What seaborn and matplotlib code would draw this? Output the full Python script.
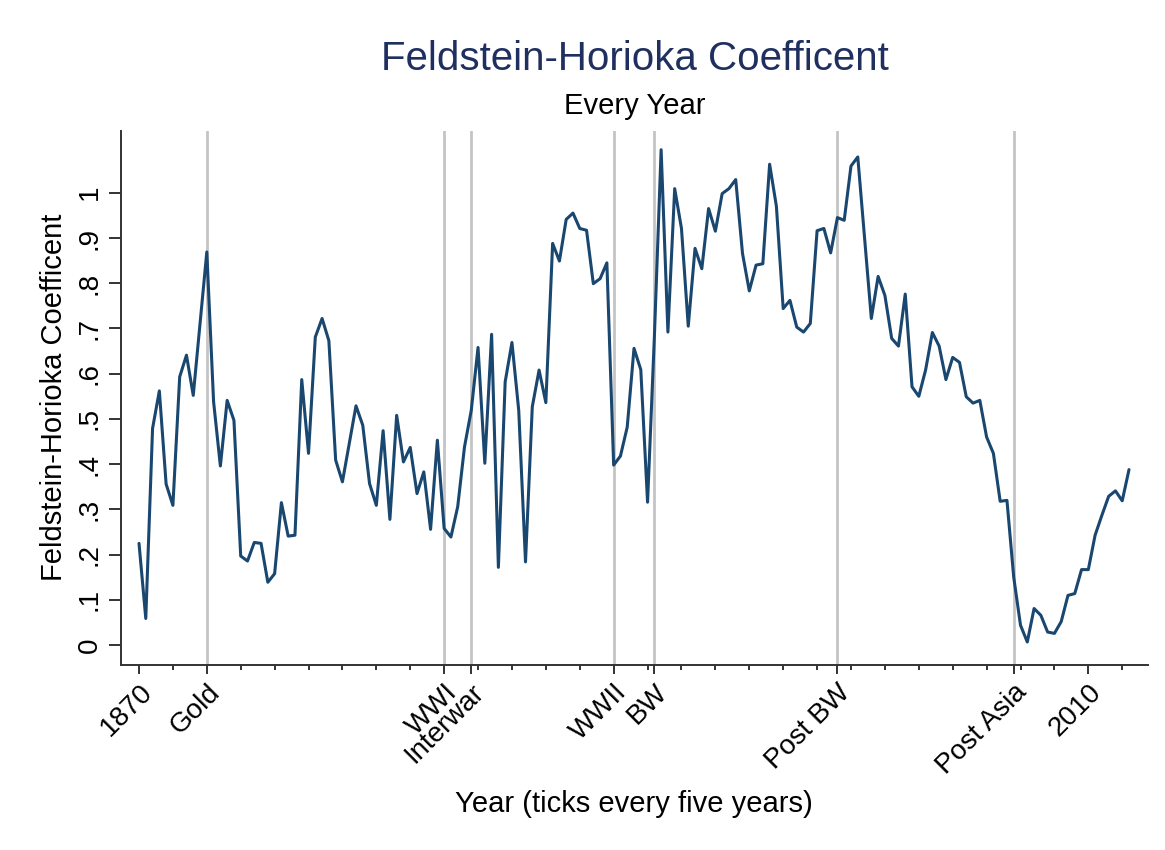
import matplotlib
matplotlib.use("Agg")
import matplotlib.pyplot as plt
import numpy as np
import pandas as pd
import seaborn as sns

# Annual Feldstein-Horioka savings-investment coefficient, 1870-2016
years = list(range(1870, 2017))
fh_coef = [
    0.225, 0.059, 0.479, 0.562, 0.356, 0.309, 0.593, 0.641, 0.552, 0.710,   # 1870s
    0.869, 0.538, 0.396, 0.541, 0.497, 0.197, 0.186, 0.227, 0.225, 0.139,   # 1880s
    0.158, 0.315, 0.241, 0.243, 0.587, 0.424, 0.681, 0.722, 0.673, 0.409,   # 1890s
    0.361, 0.445, 0.529, 0.486, 0.357, 0.309, 0.474, 0.278, 0.508, 0.405,   # 1900s
    0.437, 0.335, 0.383, 0.256, 0.453, 0.258, 0.239, 0.306, 0.438, 0.519,   # 1910s
    0.658, 0.402, 0.687, 0.172, 0.582, 0.669, 0.519, 0.184, 0.527, 0.608,   # 1920s
    0.536, 0.888, 0.849, 0.941, 0.955, 0.921, 0.917, 0.799, 0.810, 0.845,   # 1930s
    0.398, 0.418, 0.482, 0.656, 0.609, 0.316, 0.680, 1.095, 0.692, 1.009,   # 1940s
    0.921, 0.705, 0.877, 0.832, 0.965, 0.915, 0.998, 1.009, 1.029, 0.866,   # 1950s
    0.783, 0.840, 0.843, 1.063, 0.970, 0.744, 0.762, 0.703, 0.692, 0.711,   # 1960s
    0.916, 0.921, 0.867, 0.945, 0.939, 1.059, 1.079, 0.900, 0.722, 0.815,   # 1970s
    0.773, 0.678, 0.661, 0.776, 0.571, 0.550, 0.608, 0.691, 0.661, 0.587,   # 1980s
    0.636, 0.625, 0.549, 0.535, 0.541, 0.460, 0.424, 0.318, 0.320, 0.150,   # 1990s
    0.044, 0.007, 0.081, 0.066, 0.029, 0.026, 0.052, 0.110, 0.114, 0.167,   # 2000s
    0.167, 0.243, 0.287, 0.329, 0.341, 0.319, 0.388,                        # 2010s
]

# Labelled x ticks: regime starts plus the end points
event_years = [1870, 1880, 1915, 1919, 1940, 1946, 1973, 1999, 2010]
event_labels = ["1870", "Gold", "WWI", "Interwar", "WWII", "BW",
                "Post BW", "Post Asia", "2010"]
# Regime boundaries marked with vertical rules
regime_years = [1880, 1915, 1919, 1940, 1946, 1973, 1999]
# Unlabelled ticks every five years
minor_years = list(range(1870, 2016, 5))

ytick_vals = [0, 0.1, 0.2, 0.3, 0.4, 0.5, 0.6, 0.7, 0.8, 0.9, 1.0]
ytick_labels = ["0", ".1", ".2", ".3", ".4", ".5", ".6", ".7", ".8", ".9", "1"]

df = pd.DataFrame({"year": years, "coef": fh_coef})

sns.set_theme(style="ticks")
plt.rcParams["font.family"] = ["Liberation Sans", "DejaVu Sans"]
plt.rcParams["text.color"] = "black"
plt.rcParams["axes.labelcolor"] = "black"
plt.rcParams["xtick.color"] = "black"
plt.rcParams["ytick.color"] = "black"

fig = plt.figure(figsize=(11.65, 8.5), dpi=100)
ax = fig.add_axes([0.1036, 0.2181, 0.8818, 0.6281])

for yr in regime_years:
    ax.axvline(yr, color="#c4c4c4", lw=2.0, zorder=1)

sns.lineplot(data=df, x="year", y="coef", ax=ax, color="#1a476f",
             linewidth=2.2, zorder=3)

ax.set_xlim(1867.3, 2018.8)
ax.set_ylim(-0.043, 1.137)

ax.set_yticks(ytick_vals)
ax.set_yticklabels(ytick_labels, rotation=90, va="center", fontsize=20)
ax.set_xticks(event_years)
ax.set_xticklabels(event_labels, rotation=45, ha="right",
                   rotation_mode="anchor", fontsize=20)
ax.set_xticks(minor_years, minor=True)

ax.tick_params(axis="y", which="major", length=9, width=1.4,
               color="#333333", labelcolor="black", pad=4)
ax.tick_params(axis="x", which="major", length=6.5, width=1.4,
               color="#333333", labelcolor="black", pad=4)
ax.tick_params(axis="x", which="minor", length=3.8, width=1.4,
               color="#333333")

for side in ("top", "right"):
    ax.spines[side].set_visible(False)
for side in ("left", "bottom"):
    ax.spines[side].set_linewidth(1.4)
    ax.spines[side].set_color("#333333")

ax.set_xlabel("Year (ticks every five years)", fontsize=21, labelpad=8,
              color="black")
ax.set_ylabel("Feldstein-Horioka Coefficent", fontsize=21, labelpad=6,
              color="black")

fig.text(0.5446, 0.930, "Feldstein-Horioka Coefficent", ha="center",
         va="center", fontsize=29, color="#1f2f5f")
fig.text(0.5446, 0.875, "Every Year", ha="center", va="center",
         fontsize=21, color="black")

fig.savefig("out.png", dpi=100, facecolor="white")
